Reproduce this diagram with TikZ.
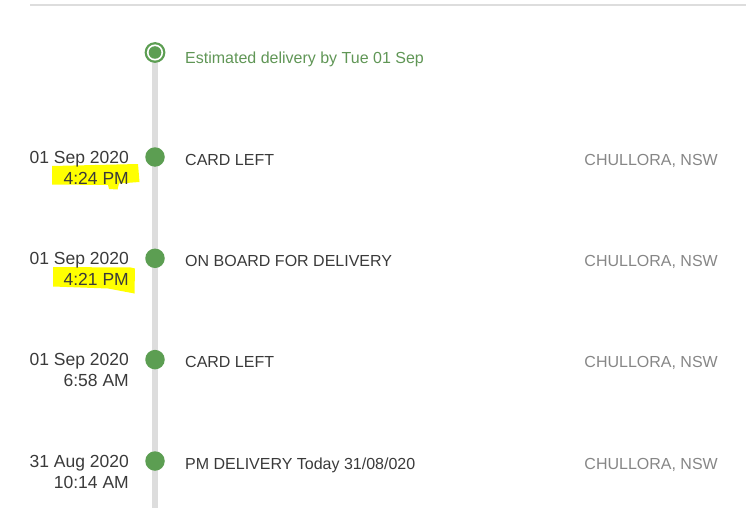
\documentclass[tikz,border=0pt]{standalone}
\usepackage{fontspec}
\setmainfont{Liberation Sans}
\usetikzlibrary{positioning}

\definecolor{trackgreen}{RGB}{92,158,82}
\definecolor{esttext}{RGB}{96,150,86}
\definecolor{darktext}{RGB}{58,58,58}
\definecolor{placetext}{RGB}{134,134,134}
\definecolor{rulegray}{RGB}{221,221,221}
\definecolor{marker}{RGB}{255,255,0}

\begin{document}
\begin{tikzpicture}[x=1pt,y=-1pt,
  dot/.style={circle,fill=trackgreen,minimum size=19.5pt,inner sep=0pt},
  datetext/.style={anchor=base east,inner sep=0pt,text=darktext,font=\fontsize{17.5}{20}\selectfont},
  eventtext/.style={anchor=base west,inner sep=0pt,text=darktext,font=\fontsize{16}{19}\selectfont},
  placetext/.style={anchor=base east,inner sep=0pt,text=placetext,font=\fontsize{16}{19}\selectfont}]

\useasboundingbox (0,0) rectangle (746,508);

\draw[color=rulegray,line width=2pt] (30,5.5)--(746,5.5);

% timeline
\coordinate (est) at (155,52.5);
\coordinate (bottom) at (155,508);
\draw[color=rulegray,line width=5.5pt] (est)--(bottom);

\fill[color=trackgreen] (est) circle[radius=10.4];
\fill[color=white] (est) circle[radius=8.1];
\fill[color=trackgreen] (est) circle[radius=6.3];
\node[anchor=base west,inner sep=0pt,text=esttext,font=\fontsize{16}{19}\selectfont]
  (esttxt) at (185,64) {Estimated delivery by Tue 01 Sep};

\node[dot] (d1) at (155,157) {};
\node[dot] (d2) at (155,258.3) {};
\node[dot] (d3) at (155,359.6) {};
\node[dot] (d4) at (155,461) {};

% highlighter marks
\fill[color=marker] (52,166)--(138,164)--(139.5,182)--(119,183.5)--(117.5,189.5)
  --(109,189)--(108,185)--(52,184.5)--cycle;
\fill[color=marker] (53,267)--(131,267.5)--(135,268.5)--(134.5,293.5)--(108,288.5)
  --(53,286.5)--cycle;

\node[datetext] (date1) at (129,163) {01 Sep 2020};
\node[datetext] (time1) at (129,184.3) {4:24 PM};
\node[eventtext] (ev1) at (185,165) {CARD LEFT};
\node[placetext] (pl1) at (718,165) {CHULLORA, NSW};

\node[datetext] (date2) at (129,264.3) {01 Sep 2020};
\node[datetext] (time2) at (129,285.6) {4:21 PM};
\node[eventtext] (ev2) at (185,266.3) {ON BOARD FOR DELIVERY};
\node[placetext] (pl2) at (718,266.3) {CHULLORA, NSW};

\node[datetext] (date3) at (129,365.6) {01 Sep 2020};
\node[datetext] (time3) at (129,386.9) {6:58 AM};
\node[eventtext] (ev3) at (185,367.6) {CARD LEFT};
\node[placetext] (pl3) at (718,367.6) {CHULLORA, NSW};

\node[datetext] (date4) at (129,467) {31 Aug 2020};
\node[datetext] (time4) at (129,488.3) {10:14 AM};
\node[eventtext] (ev4) at (185,469) {PM DELIVERY Today 31/08/020};
\node[placetext] (pl4) at (718,469) {CHULLORA, NSW};

\end{tikzpicture}
\end{document}
